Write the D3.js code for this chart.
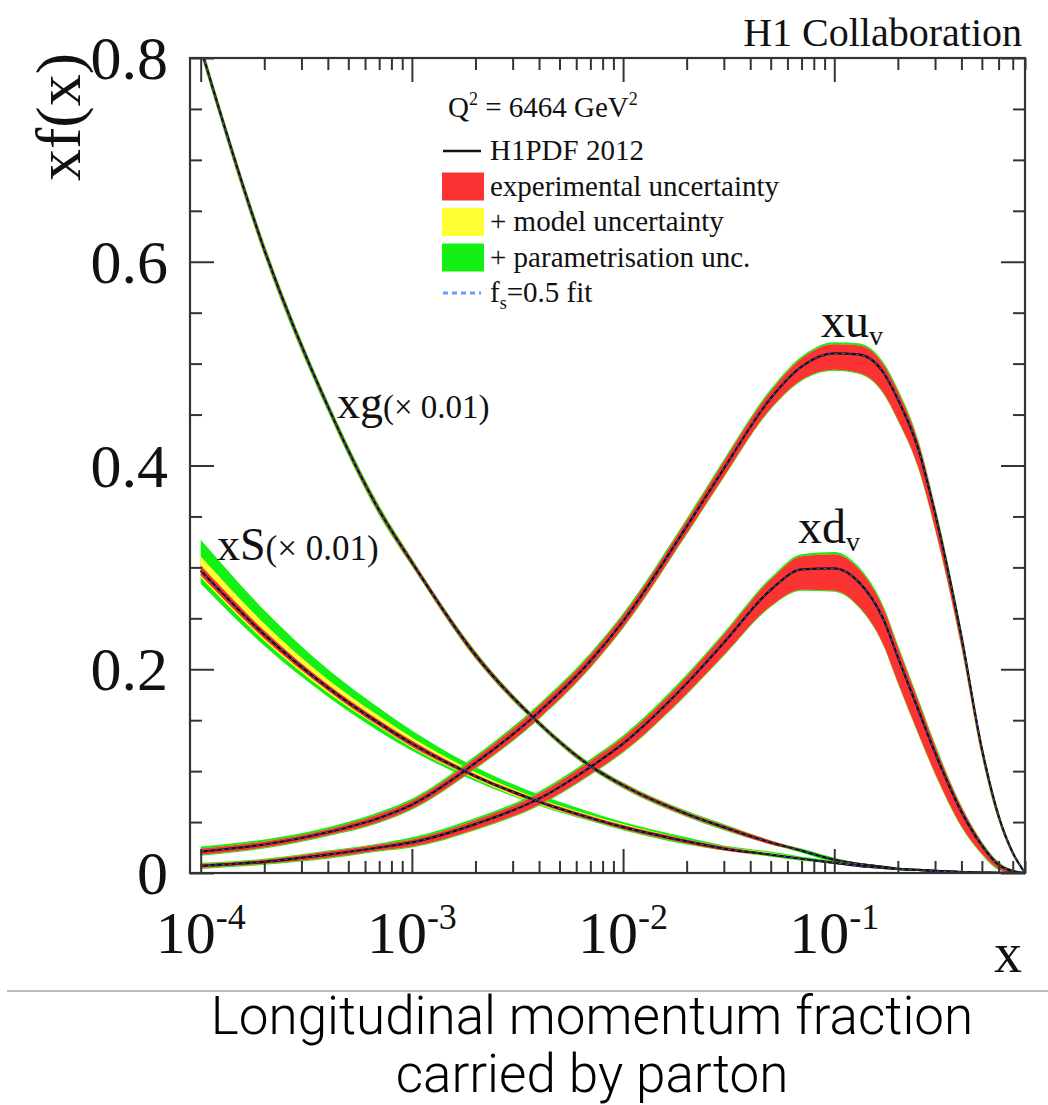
<!DOCTYPE html>
<html>
<head>
<meta charset="utf-8">
<script src="https://cdn.jsdelivr.net/npm/d3@7"></script>
<style>
body{margin:0;background:#fff}
svg text{font-family:"Liberation Serif","Times New Roman",serif;fill:#111}
svg text.caption{font-family:Roboto,"Liberation Sans",sans-serif;font-weight:300;fill:#000}
</style>
</head>
<body>
<svg id="chart" width="1048" height="1105"></svg>
<script>
// momentum fraction grid
var xVals=[1e-4,2e-4,4e-4,7e-4,1e-3,2e-3,4e-3,7e-3,0.01,0.02,0.03,0.05,0.07,0.1,0.13,0.17,0.2,0.25,0.3,0.4,0.5,0.6,0.7,0.8];

// xg (x 0.01)
var xgVal  =[0.81,0.612,0.458,0.356,0.305,0.214,0.147,0.105,0.086,0.058,0.045,0.030,0.022,0.013,0.009,0.006,0.004,0.003,0.002,0.001,0.0005,0.0002,0.0001,0];
var xgExp  =[0.004,0.004,0.003,0.003,0.003,0.003,0.002,0.002,0.002,0.002,0.002,0.002,0.001,0.001,0.001,0.001,0.001,0.001,0.001,0,0,0,0,0];
var xgTot  =[0.006,0.006,0.005,0.005,0.004,0.004,0.003,0.003,0.003,0.003,0.003,0.002,0.002,0.002,0.001,0.001,0.001,0.001,0.001,0.001,0,0,0,0];

// xS (x 0.01)
var xsVal  =[0.297,0.234,0.182,0.147,0.127,0.095,0.070,0.054,0.045,0.031,0.024,0.018,0.014,0.010,0.007,0.005,0.004,0.003,0.002,0.001,0.0005,0.0002,0.0001,0];
var xsExp  =[0.005,0.004,0.003,0.003,0.003,0.002,0.002,0.002,0.002,0.002,0.002,0.001,0.001,0.001,0.001,0.001,0.001,0,0,0,0,0,0,0];
var xsModUp=[0.014,0.011,0.008,0.007,0.006,0.004,0.003,0.003,0.003,0.002,0.002,0.002,0.001,0.001,0.001,0.001,0.001,0,0,0,0,0,0,0];
var xsModDn=[0.007,0.006,0.005,0.004,0.004,0.003,0.003,0.002,0.002,0.002,0.002,0.001,0.001,0.001,0.001,0.001,0.001,0,0,0,0,0,0,0];
var xsTotUp=[0.030,0.024,0.018,0.015,0.013,0.009,0.007,0.006,0.005,0.004,0.003,0.003,0.002,0.002,0.002,0.001,0.001,0.001,0.001,0,0,0,0,0];
var xsTotDn=[0.013,0.011,0.009,0.008,0.007,0.005,0.004,0.003,0.003,0.003,0.002,0.002,0.002,0.001,0.001,0.001,0.001,0.001,0,0,0,0,0,0];

// xu_v
var xuVal  =[0.021,0.028,0.040,0.054,0.067,0.108,0.158,0.208,0.247,0.340,0.397,0.466,0.497,0.510,0.509,0.492,0.465,0.416,0.353,0.232,0.122,0.056,0.020,0];
var xuExpUp=[0.003,0.003,0.003,0.004,0.004,0.005,0.006,0.006,0.006,0.006,0.007,0.007,0.008,0.009,0.009,0.008,0.008,0.007,0.006,0.005,0.004,0.003,0.002,0];
var xuExpDn=[0.003,0.003,0.003,0.004,0.004,0.005,0.006,0.006,0.006,0.007,0.008,0.010,0.013,0.016,0.018,0.020,0.020,0.018,0.015,0.010,0.007,0.004,0.002,0];
var xuTotUp=[0.005,0.005,0.005,0.006,0.006,0.007,0.008,0.008,0.008,0.008,0.009,0.009,0.010,0.011,0.011,0.010,0.010,0.009,0.008,0.007,0.005,0.004,0.002,0];
var xuTotDn=[0.004,0.004,0.004,0.005,0.005,0.006,0.007,0.007,0.007,0.008,0.009,0.011,0.014,0.017,0.019,0.021,0.021,0.019,0.016,0.011,0.008,0.005,0.003,0];

// xd_v
var xdVal  =[0.007,0.011,0.018,0.025,0.030,0.048,0.073,0.104,0.127,0.186,0.226,0.278,0.298,0.299,0.286,0.250,0.212,0.160,0.118,0.060,0.027,0.008,0.002,0];
var xdExpUp=[0.002,0.002,0.003,0.003,0.003,0.004,0.005,0.006,0.006,0.007,0.008,0.010,0.013,0.014,0.013,0.011,0.010,0.009,0.007,0.005,0.003,0.002,0.001,0];
var xdExpDn=[0.002,0.002,0.003,0.003,0.004,0.005,0.006,0.007,0.008,0.010,0.012,0.016,0.020,0.022,0.024,0.025,0.025,0.023,0.020,0.014,0.008,0.004,0.002,0];
var xdTotUp=[0.003,0.003,0.004,0.004,0.005,0.006,0.007,0.008,0.008,0.009,0.010,0.012,0.015,0.016,0.015,0.013,0.012,0.011,0.009,0.006,0.004,0.003,0.001,0];
var xdTotDn=[0.003,0.003,0.004,0.004,0.005,0.006,0.007,0.008,0.009,0.011,0.013,0.017,0.021,0.023,0.025,0.026,0.026,0.024,0.021,0.015,0.009,0.005,0.002,0];

// axes
var xMin=8.9e-5, xMax=0.8;
var xMajor=[1e-4,1e-3,1e-2,1e-1];
var xLabels=["-4","-3","-2","-1"];
var yMajor=[0,0.2,0.4,0.6,0.8];
var yLabels=["0","0.2","0.4","0.6","0.8"];

var legendItems=[
  {type:"line", text:"H1PDF 2012"},
  {type:"box", color:"#fb3333", text:"experimental uncertainty"},
  {type:"box", color:"#ffff33", text:"+ model uncertainty"},
  {type:"box", color:"#14f014", text:"+ parametrisation unc."},
  {type:"dots", text:"fs"}
];

var svg=d3.select("#chart");
var pLeft=190, pRight=1025, pTop=58, pBottom=873;

var x=d3.scaleLog().domain([xMin,xMax]).range([pLeft,pRight]);
var y=d3.scaleLinear().domain([0,0.8]).range([pBottom,pTop]);

// minor tick values
var xMinor=[];
xMajor.forEach(function(d){
  for(var k=2;k<=9;k++){ if(d*k<=xMax+1e-9) xMinor.push(d*k); }
});
var yMinor=d3.range(0,0.801,0.05).filter(function(d){return Math.abs(d*5-Math.round(d*5))>1e-6;});

svg.append("defs").append("clipPath").attr("id","plotclip")
  .append("rect").attr("x",pLeft).attr("y",pTop).attr("width",pRight-pLeft).attr("height",pBottom-pTop);

var plot=svg.append("g").attr("clip-path","url(#plotclip)");

var line=d3.line()
  .x(function(d){return x(d.x);})
  .y(function(d){return y(d.v);})
  .curve(d3.curveMonotoneX);
var area=d3.area()
  .x(function(d){return x(d.x);})
  .y0(function(d){return y(d.lo);})
  .y1(function(d){return y(d.hi);})
  .curve(d3.curveMonotoneX);

function band(val,up,dn){
  return xVals.map(function(xv,i){return {x:xv, lo:val[i]-dn[i], hi:val[i]+up[i]};});
}
function pts(val){
  return xVals.map(function(xv,i){return {x:xv, v:val[i]};});
}

var curves=[
  {val:xgVal, tot:[xgTot,xgTot], mod:[xgExp,xgExp], exp:[xgExp,xgExp]},
  {val:xsVal, tot:[xsTotUp,xsTotDn], mod:[xsModUp,xsModDn], exp:[xsExp,xsExp]},
  {val:xuVal, tot:[xuTotUp,xuTotDn], mod:[xuExpUp,xuExpDn], exp:[xuExpUp,xuExpDn]},
  {val:xdVal, tot:[xdTotUp,xdTotDn], mod:[xdExpUp,xdExpDn], exp:[xdExpUp,xdExpDn]}
];

curves.forEach(function(c){
  plot.append("path").datum(band(c.val,c.tot[0],c.tot[1])).attr("d",area).attr("fill","#14f014");
  plot.append("path").datum(band(c.val,c.mod[0],c.mod[1])).attr("d",area).attr("fill","#ffff33");
  plot.append("path").datum(band(c.val,c.exp[0],c.exp[1])).attr("d",area).attr("fill","#fb3333");
});
curves.forEach(function(c){
  plot.append("path").datum(pts(c.val)).attr("d",line)
    .attr("fill","none").attr("stroke","#111").attr("stroke-width",2.2);
  plot.append("path").datum(pts(c.val)).attr("d",line)
    .attr("fill","none").attr("stroke","#4055c8").attr("stroke-width",1.1)
    .attr("stroke-dasharray","3,4");
});

// ticks, all pointing inwards
function styleAxis(g){
  g.select(".domain").remove();
  g.selectAll("line").attr("stroke","#333").attr("stroke-width",2);
}
svg.append("g").attr("transform","translate(0,"+pBottom+")")
  .call(d3.axisBottom(x).tickValues(xMajor).tickSize(-24).tickFormat("")).call(styleAxis);
svg.append("g").attr("transform","translate(0,"+pBottom+")")
  .call(d3.axisBottom(x).tickValues(xMinor).tickSize(-12).tickFormat("")).call(styleAxis);
svg.append("g").attr("transform","translate(0,"+pTop+")")
  .call(d3.axisTop(x).tickValues(xMajor).tickSize(-24).tickFormat("")).call(styleAxis);
svg.append("g").attr("transform","translate(0,"+pTop+")")
  .call(d3.axisTop(x).tickValues(xMinor).tickSize(-12).tickFormat("")).call(styleAxis);
svg.append("g").attr("transform","translate("+pLeft+",0)")
  .call(d3.axisLeft(y).tickValues(yMajor).tickSize(-24).tickFormat("")).call(styleAxis);
svg.append("g").attr("transform","translate("+pLeft+",0)")
  .call(d3.axisLeft(y).tickValues(yMinor).tickSize(-12).tickFormat("")).call(styleAxis);
svg.append("g").attr("transform","translate("+pRight+",0)")
  .call(d3.axisRight(y).tickValues(yMajor).tickSize(-24).tickFormat("")).call(styleAxis);
svg.append("g").attr("transform","translate("+pRight+",0)")
  .call(d3.axisRight(y).tickValues(yMinor).tickSize(-12).tickFormat("")).call(styleAxis);

svg.append("rect").attr("x",pLeft).attr("y",pTop).attr("width",pRight-pLeft).attr("height",pBottom-pTop)
  .attr("fill","none").attr("stroke","#333").attr("stroke-width",2.2);

// tick labels
var xl=svg.selectAll("text.xlab").data(xMajor).enter().append("text")
  .attr("class","xlab")
  .attr("x",function(d){return x(d);})
  .attr("y",953)
  .attr("text-anchor","middle");
xl.append("tspan").attr("font-size",60).text("10");
xl.append("tspan").attr("font-size",36).attr("dy",-24)
  .text(function(d,i){return xLabels[i];});

svg.selectAll("text.ylab").data(yMajor).enter().append("text")
  .attr("class","ylab")
  .attr("x",168)
  .attr("y",function(d){return y(d)+21;})
  .attr("text-anchor","end")
  .attr("font-size",62)
  .text(function(d,i){return yLabels[i];});

// axis titles
svg.append("text").attr("transform","translate(80,117) rotate(-90)")
  .attr("text-anchor","middle").attr("font-size",64).text("xf(x)");
svg.append("text").attr("x",1022).attr("y",972).attr("text-anchor","end")
  .attr("font-size",56).text("x");
svg.append("text").attr("x",1022).attr("y",46).attr("text-anchor","end")
  .attr("font-size",40).text("H1 Collaboration");

// curve labels
var lg=svg.append("text").attr("x",337).attr("y",418);
lg.append("tspan").attr("font-size",46).text("xg");
lg.append("tspan").attr("font-size",33).text("(\u00d7 0.01)");
var ls=svg.append("text").attr("x",217).attr("y",560);
ls.append("tspan").attr("font-size",46).text("xS");
ls.append("tspan").attr("font-size",35).text("(\u00d7 0.01)");
var lu=svg.append("text").attr("x",821).attr("y",337);
lu.append("tspan").attr("font-size",48).text("xu");
lu.append("tspan").attr("font-size",28).attr("dy",8).text("v");
var ld=svg.append("text").attr("x",798).attr("y",543);
ld.append("tspan").attr("font-size",48).text("xd");
ld.append("tspan").attr("font-size",28).attr("dy",8).text("v");

// legend
var q=svg.append("text").attr("x",448).attr("y",117).attr("font-size",29);
q.append("tspan").text("Q");
q.append("tspan").attr("font-size",18).attr("dy",-12).text("2");
q.append("tspan").attr("dy",12).text(" = 6464 GeV");
q.append("tspan").attr("font-size",18).attr("dy",-12).text("2");

var leg=svg.append("g");
legendItems.forEach(function(d,i){
  var cy=151+i*35.5;
  if(d.type=="line"){
    leg.append("line").attr("x1",443).attr("x2",481).attr("y1",cy).attr("y2",cy)
      .attr("stroke","#111").attr("stroke-width",2.5);
  } else if(d.type=="box"){
    leg.append("rect").attr("x",442).attr("y",cy-14).attr("width",42).attr("height",28).attr("fill",d.color);
  } else {
    leg.append("line").attr("x1",443).attr("x2",481).attr("y1",cy).attr("y2",cy)
      .attr("stroke","#6a9cff").attr("stroke-width",3).attr("stroke-dasharray","5,4");
  }
  var t=leg.append("text").attr("x",490).attr("y",cy+9).attr("font-size",29);
  if(d.type=="dots"){
    t.append("tspan").text("f");
    t.append("tspan").attr("font-size",18).attr("dy",7).text("s");
    t.append("tspan").attr("dy",-7).text("=0.5 fit");
  } else {
    t.text(d.text);
  }
});

// separator and caption
svg.append("line").attr("x1",7).attr("x2",1048).attr("y1",991).attr("y2",991)
  .attr("stroke","#bdbdbd").attr("stroke-width",2);
svg.append("text").attr("class","caption").attr("x",592).attr("y",1034)
  .attr("text-anchor","middle").attr("font-size",53).text("Longitudinal momentum fraction");
svg.append("text").attr("class","caption").attr("x",592).attr("y",1092)
  .attr("text-anchor","middle").attr("font-size",53).text("carried by parton");
</script>
</body>
</html>
